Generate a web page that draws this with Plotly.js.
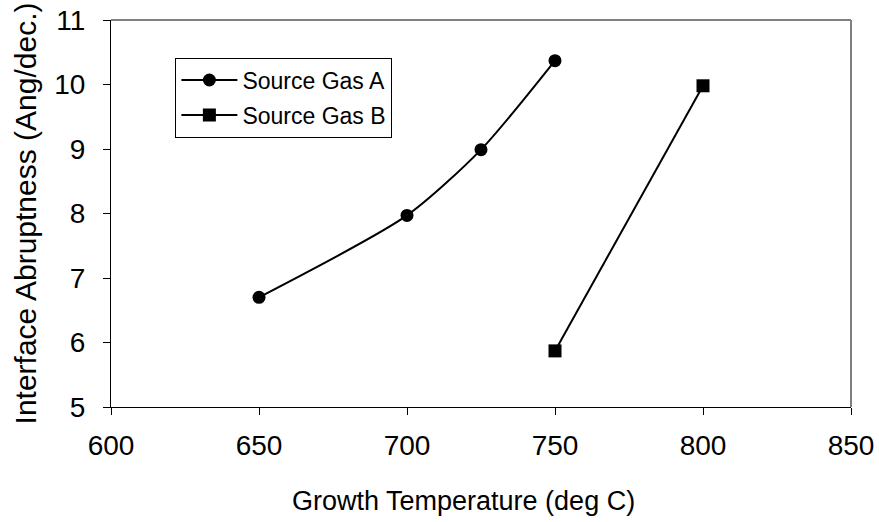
<!DOCTYPE html>
<html>
<head>
<meta charset="utf-8">
<script src="https://cdn.plot.ly/plotly-3.0.1.min.js"></script>
<style>html,body{margin:0;padding:0;background:#fff;}#chart{width:879px;height:522px;}</style>
</head>
<body>
<div id="chart"></div>
<script>
const tempA = [650, 700, 725, 750];
const abruptA = [6.7, 7.97, 8.99, 10.37];
const tempB = [750, 800];
const abruptB = [5.87, 9.98];
const nameA = "Source Gas A";
const nameB = "Source Gas B";
const xTitle = "Growth Temperature (deg C)";
const yTitle = "Interface Abruptness (Ang/dec.)";

const traces = [
  {x: tempA, y: abruptA, name: nameA, legendgroup: "a", type: "scatter", mode: "lines+markers",
   line: {color: "#000", width: 2, shape: "spline", smoothing: 0.7},
   marker: {symbol: "circle", size: 13, color: "#000"}},
  {x: tempB, y: abruptB, name: nameB, legendgroup: "b", type: "scatter", mode: "lines+markers",
   line: {color: "#000", width: 2},
   marker: {symbol: "square", size: 13, color: "#000"}}
];

const layout = {
  width: 879, height: 522,
  margin: {l: 111, r: 28, t: 20, b: 115},
  paper_bgcolor: "#fff", plot_bgcolor: "#fff",
  font: {family: "Liberation Sans, Arial, sans-serif", color: "#000"},
  showlegend: true,
  legend: {x: 0.087, y: 0.903, xanchor: "left", yanchor: "top",
           bordercolor: "#000", borderwidth: 1, bgcolor: "#fff",
           traceorder: "grouped", tracegroupgap: 2, itemwidth: 56,
           font: {size: 23, color: "#000"}},
  xaxis: {range: [600, 850], dtick: 50, tick0: 600, ticks: "outside", ticklen: 7,
          tickcolor: "#000", showline: true, linecolor: "#000", linewidth: 1,
          showgrid: false, zeroline: false, tickfont: {size: 28},
          ticklabelstandoff: 6},
  yaxis: {range: [5, 11], dtick: 1, ticks: "outside", ticklen: 7,
          tickcolor: "#000", showline: true, linecolor: "#000", linewidth: 1,
          showgrid: false, zeroline: false, tickfont: {size: 28},
          ticklabelstandoff: 12,
          title: {text: yTitle, font: {size: 30}, standoff: 8}},
  annotations: [
    {text: xTitle, xref: "paper", yref: "paper", x: 0.476, y: -0.2,
     xanchor: "center", yanchor: "top", showarrow: false, font: {size: 27}}
  ],
  shapes: [
    {type: "line", xref: "paper", yref: "paper", x0: 0, x1: 1, y0: 1, y1: 1,
     line: {color: "#808080", width: 2}},
    {type: "line", xref: "paper", yref: "paper", x0: 1, x1: 1, y0: 0, y1: 1,
     line: {color: "#808080", width: 2}}
  ]
};

Plotly.newPlot("chart", traces, layout, {displayModeBar: false, staticPlot: true});
</script>
</body>
</html>
